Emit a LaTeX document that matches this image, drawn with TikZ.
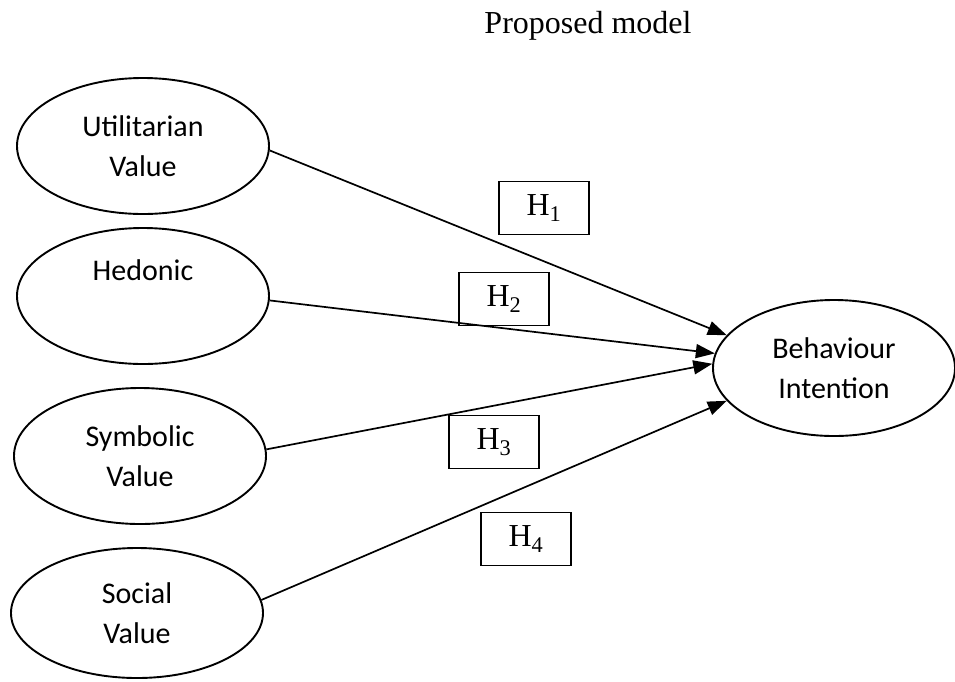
\documentclass[tikz,border=0pt]{standalone}
\usepackage{fontspec}
\setmainfont{Liberation Serif}
\newfontfamily\calfont{Carlito}
\usetikzlibrary{arrows.meta,shapes.geometric}

\begin{document}
\begin{tikzpicture}[x=1pt, y=-1pt,
        latent/.style={draw, ellipse, line width=1.9pt, inner sep=0pt, align=center, minimum width=252pt, minimum height=136pt, font=\calfont\fontsize{30}{40}\selectfont},
        hypo/.style={draw, line width=1.8pt, minimum width=90pt, minimum height=53pt, inner sep=0pt, font=\fontsize{32}{36}\selectfont},
        arrow/.style={-{Triangle[length=19pt,width=14pt]}, line width=1.7pt}
    ]
        \useasboundingbox (0,0) rectangle (955,681);

        \node[anchor=base] (title) at (588,33) {\fontsize{32}{36}\selectfont Proposed model};

        \node[latent] (util) at (143,146) {Utilitarian\\Value};
        \node[latent] (hedon) at (143,296) {Hedonic\\\strut};
        \node[latent] (symb) at (140,456) {Symbolic\\Value};
        \node[latent, minimum height=130pt] (social) at (137,613) {Social\\Value};

        \node[latent, minimum width=242pt] (intent) at (834,368) {Behaviour\\Intention};

        \node[hypo] (h1) at (544,208) {H\textsubscript{1}};
        \node[hypo] (h2) at (504,299) {H\textsubscript{2}};
        \node[hypo] (h3) at (494,442) {H\textsubscript{3}};
        \node[hypo] (h4) at (526,539) {H\textsubscript{4}};

        \draw[arrow] (util.-2) -- (intent.163);
        \draw[arrow] (hedon.-2) -- (intent.173);
        \draw[arrow] (symb.3) -- (intent.178);
        \draw[arrow] (social.6) -- (intent.197);
    \end{tikzpicture}
\end{document}
